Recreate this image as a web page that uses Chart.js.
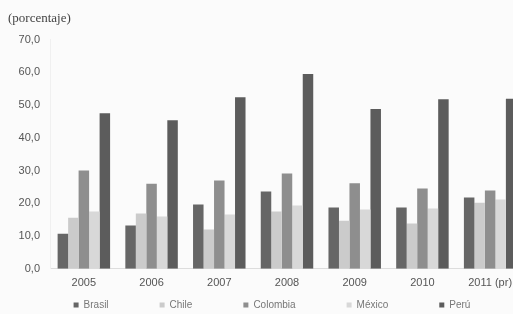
<!DOCTYPE html>
<html>
<head>
<meta charset="utf-8">
<script src="https://cdn.jsdelivr.net/npm/chart.js@4"></script>
<style>
  html, body { margin: 0; padding: 0; background: #fbfbfb; overflow: hidden; }
  #wrap { width: 530px; height: 314px; position: relative; }
</style>
</head>
<body>
<div id="wrap"><canvas id="chart"></canvas></div>
<script>
// años
const years = ['2005', '2006', '2007', '2008', '2009', '2010', '2011 (pr)'];

// valores por país (porcentaje)
const brasil   = [10.7, 13.2, 19.6, 23.6, 18.7, 18.7, 21.8];
const chile    = [15.6, 16.9, 12.0, 17.5, 14.7, 13.8, 20.2];
const colombia = [30.0, 26.0, 27.0, 29.1, 26.1, 24.5, 23.9];
const mexico   = [17.5, 16.0, 16.6, 19.3, 18.1, 18.4, 21.2];
const peru     = [47.5, 45.4, 52.4, 59.5, 48.8, 51.8, 51.9];

const countries = ['Brasil', 'Chile', 'Colombia', 'México', 'Perú'];
const colors = ['#666666', '#cbcbcb', '#8e8e8e', '#d8d8d8', '#5c5c5c'];
const series = [brasil, chile, colombia, mexico, peru];

// leyenda abajo con mucho espacio entre elementos
const spacedLegend = {
  id: 'spacedLegend',
  afterDraw(chart) {
    const c = chart.ctx;
    const gap = 51, box = 5, y = 305, cx = 272;
    c.save();
    c.font = '10px "Liberation Sans"';
    c.textBaseline = 'middle';
    const items = chart.data.datasets.map(d => ({
      text: d.label,
      color: d.backgroundColor,
      w: box + 5 + c.measureText(d.label).width
    }));
    const total = items.reduce((s, it) => s + it.w, 0) + gap * (items.length - 1);
    let x = cx - total / 2;
    items.forEach(it => {
      c.fillStyle = it.color;
      c.fillRect(x, y - box / 2, box, box);
      c.fillStyle = '#777';
      c.fillText(it.text, x + box + 5, y);
      x += it.w + gap;
    });
    c.restore();
  }
};

const ctx = document.getElementById('chart').getContext('2d');
new Chart(ctx, {
  type: 'bar',
  data: {
    labels: years,
    datasets: series.map((vals, i) => ({
      label: countries[i],
      data: vals,
      backgroundColor: colors[i],
      borderWidth: 0,
      categoryPercentage: 0.775,
      barPercentage: 1.0
    }))
  },
  options: {
    responsive: true,
    maintainAspectRatio: false,
    animation: false,
    layout: { padding: { left: 8, right: 6, top: 0, bottom: 16 } },
    plugins: {
      title: {
        display: true,
        text: '(porcentaje)',
        align: 'start',
        color: '#444',
        font: { family: 'Liberation Serif', size: 13, weight: 'normal' },
        padding: { top: 11, bottom: 13 }
      },
      legend: { display: false },
      tooltip: { enabled: false }
    },
    scales: {
      x: {
        grid: { display: false, drawTicks: false },
        border: { color: '#dddddd' },
        ticks: {
          color: '#555',
          padding: 8,
          font: { family: 'Liberation Sans', size: 11 }
        }
      },
      y: {
        min: 0,
        max: 70,
        afterFit: (axis) => { axis.width = 42; },
        grid: { display: false, drawTicks: false },
        border: { color: '#f0f0f0' },
        ticks: {
          stepSize: 10,
          color: '#555',
          padding: 10,
          font: { family: 'Liberation Sans', size: 11 },
          callback: (v) => v.toFixed(1).replace('.', ',')
        }
      }
    }
  },
  plugins: [spacedLegend]
});
</script>
</body>
</html>
